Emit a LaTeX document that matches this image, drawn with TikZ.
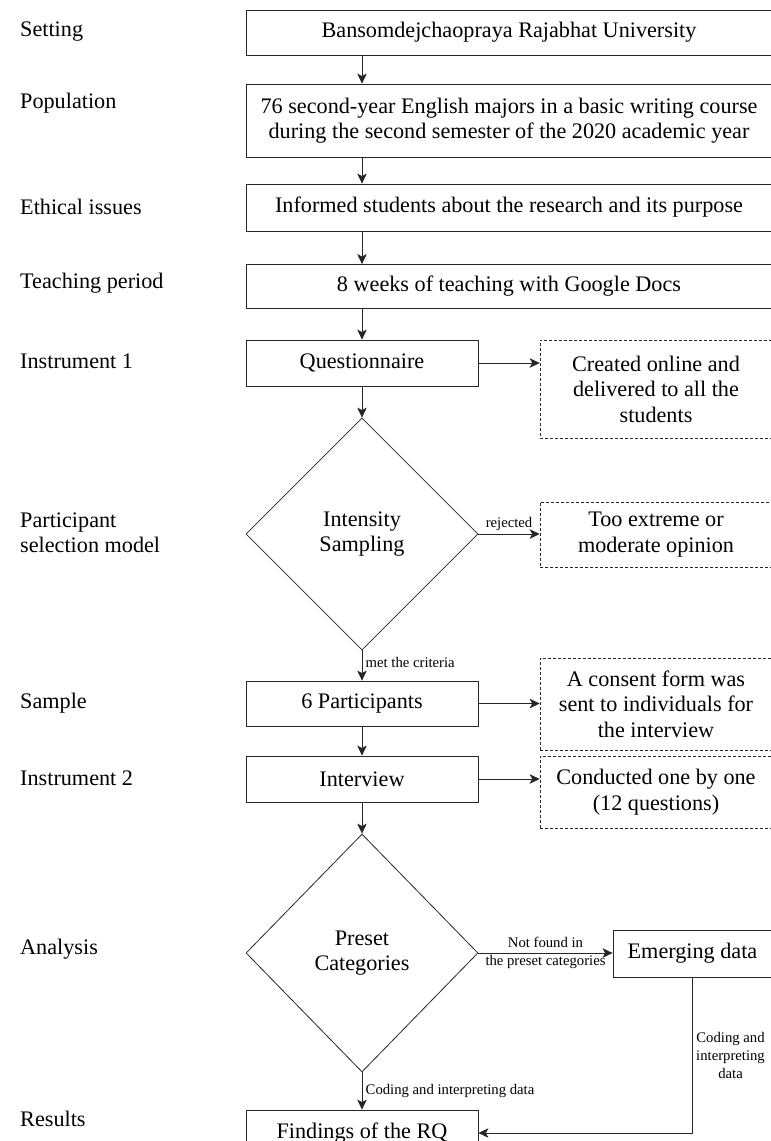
\documentclass[tikz,border=0pt]{standalone}
\usepackage{fontspec}
\setmainfont{Liberation Serif}
\usepackage{tikz}
\usetikzlibrary{shapes.geometric, arrows.meta, positioning, calc}

\begin{document}
\begin{tikzpicture}[x=1pt, y=-1pt,
  font=\fontsize{22.2}{25.5}\selectfont,
  box/.style={draw=black!85, line width=0.8pt, align=center, inner sep=2pt},
  wide/.style={box, minimum width=526pt},
  narrow/.style={box, minimum width=232pt},
  note/.style={box, minimum width=232pt, line width=0.6pt, dash pattern=on 3pt off 2pt},
  dec/.style={diamond, draw=black!85, line width=0.8pt, align=center, aspect=1,
    minimum width=232pt, minimum height=232pt},
  arr/.style={-{Stealth[length=10pt,width=9.5pt,inset=2.5pt]}, line width=0.8pt, draw=black!85},
  lab/.style={font=\fontsize{14.7}{18}\selectfont},
  side/.style={anchor=west, align=left, inner sep=0pt}]
\useasboundingbox (0,0) rectangle (771,1141);

% Stage names on the left
\node[side] (lSet) at (20,32) {Setting};
\node[side] (lPop) at (20,103) {Population};
\node[side] (lEth) at (20,207) {Ethical issues};
\node[side] (lTeach) at (20,283) {Teaching period};
\node[side] (lIns1) at (20,361) {Instrument 1};
\node[side] (lSel) at (20,533) {Participant\\selection model};
\node[side] (lSamp) at (20,703) {Sample};
\node[side] (lIns2) at (20,778) {Instrument 2};
\node[side] (lAna) at (20,949) {Analysis};
\node[side] (lRes) at (20,1119) {Results};

% Main column
\node[wide, minimum height=45pt] (set) at (509,32.5) {Bansomdejchaopraya Rajabhat University};
\node[wide, minimum height=73pt] (pop) at (509,120.5) {76 second-year English majors in a basic writing course\\during the second semester of the 2020 academic year};
\node[wide, minimum height=47pt] (eth) at (509,207.5) {Informed students about the research and its purpose};
\node[wide, minimum height=44pt] (teach) at (509,286.5) {8 weeks of teaching with Google Docs};
\node[narrow, minimum height=46pt] (quest) at (362,363) {Questionnaire};
\node[dec] (samp) at (362,534) {Intensity\\Sampling};
\node[narrow, minimum height=45pt] (part) at (362,703.5) {6 Participants};
\node[narrow, minimum height=46pt] (intv) at (362,779) {Interview};
\node[dec, minimum height=238pt] (pre) at (362,953) {Preset\\Categories};
\node[narrow, minimum height=46pt] (find) at (362,1133) {Findings of the RQ};

% Side notes
\node[note, minimum height=98pt] (n1) at (656,389) {Created online and\\delivered to all the\\students};
\node[note, minimum height=65pt] (n2) at (656,534.5) {Too extreme or\\moderate opinion};
\node[note, minimum height=92pt] (n3) at (656,704) {A consent form was\\sent to individuals for\\the interview};
\node[note, minimum height=72pt] (n4) at (656,792) {Conducted one by one\\(12 questions)};
\node[box, minimum width=159pt, minimum height=47pt] (emg) at (692.5,953.5) {Emerging data};

% Arrows down the column
\draw[arr] (set.south -| quest.north) -- (pop.north -| quest.north);
\draw[arr] (pop.south -| quest.north) -- (eth.north -| quest.north);
\draw[arr] (eth.south -| quest.north) -- (teach.north -| quest.north);
\draw[arr] (teach.south -| quest.north) -- (quest.north);
\draw[arr] (quest.south) -- (samp.north);
\draw[arr] (samp.south) -- node[lab, right, pos=0.4] {met the criteria} (part.north);
\draw[arr] (part.south) -- (intv.north);
\draw[arr] (intv.south) -- (pre.north);
\draw[arr] (pre.south) -- node[lab, right] {Coding and interpreting data} (find.north);

% Arrows to the side
\draw[arr] (quest.east) -- (quest.east -| n1.west);
\draw[arr] (samp.east) -- node[lab, above] {rejected} (samp.east -| n2.west);
\draw[arr] (part.east) -- (part.east -| n3.west);
\draw[arr] (intv.east) -- (intv.east -| n4.west);
\draw[arr] (pre.east) -- node[lab, align=center] {Not found in\\the preset categories} (pre.east -| emg.west);
\draw[arr] (emg.south) |- node[lab, right, align=center, pos=0.25] {Coding and\\interpreting\\data} (find.east);
\end{tikzpicture}
\end{document}
